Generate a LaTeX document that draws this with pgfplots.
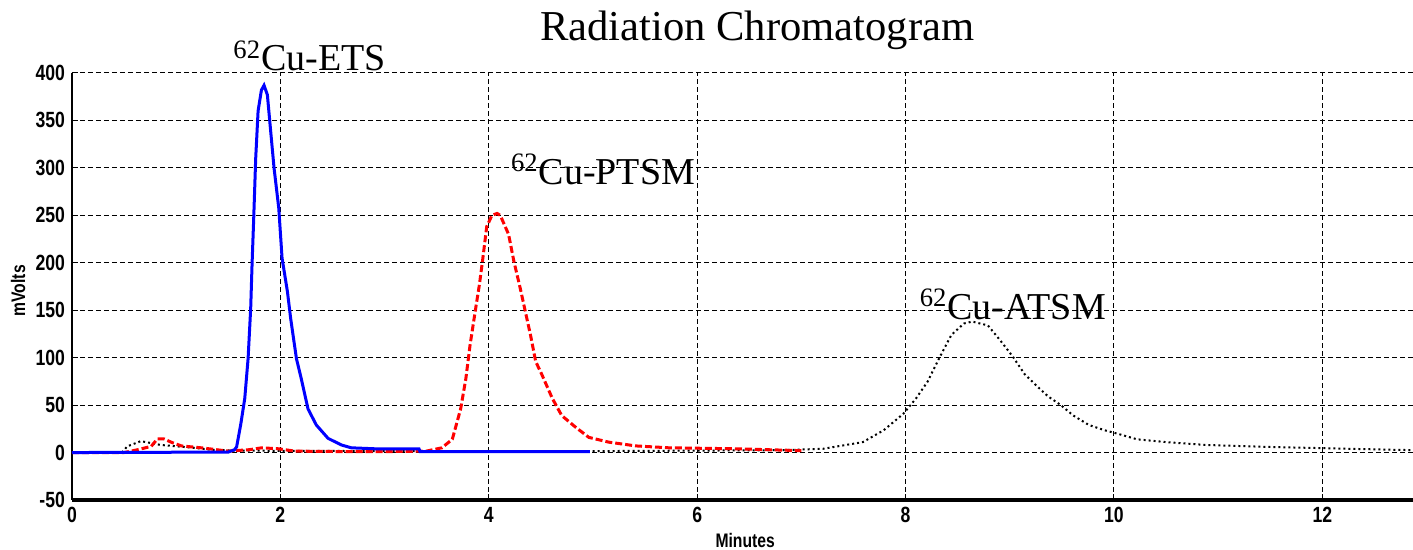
\documentclass[border=0pt]{standalone}
\usepackage{fontspec}
\setmainfont{Liberation Serif}
\newfontfamily\tickfont[FakeStretch=0.8]{Liberation Sans}
\usepackage{pgfplots}
\pgfplotsset{compat=1.18}
\pgfplotstableread{
x y
0 0
1.5 0.5
1.56 3
1.58 6
1.62 30
1.658 57
1.69 99
1.715 152
1.728 198
1.744 247
1.763 310
1.786 360
1.818 382
1.843 387
1.875 377
1.904 342
1.939 300
1.984 258
2.016 205
2.067 170
2.099 141
2.154 99
2.20 78
2.265 46
2.345 29
2.457 15
2.585 8
2.68 5
2.9 4
3.1 4
3.33 4
3.34 1
4.0 1
4.97 1
}\ets
\pgfplotstableread{
x y
0 0
0.5 0
0.63 3
0.76 6.5
0.82 14.5
0.88 14.5
0.95 11
1.05 7
1.24 5
1.5 1.5
1.7 3
1.82 5
1.98 4
2.14 1.5
2.6 1
3.0 1
3.4 1.5
3.55 5
3.65 14
3.73 46
3.78 78
3.82 113
3.87 149
3.91 177
3.94 202
3.98 238
4.03 250
4.08 252
4.11 250
4.19 230
4.24 202
4.30 174
4.35 149
4.40 124
4.45 96
4.51 82
4.61 57
4.70 39
4.83 27
4.96 16
5.15 11
5.41 7
5.73 5
6.36 4
7.0 2
}\ptsm
\pgfplotstableread{
x y
0 0
0.48 0
0.53 6.5
0.66 12
0.76 10
0.85 8
1.01 6.5
1.17 5
1.33 3
1.56 2
3 1.5
5 1.5
6.82 2.5
7.21 4
7.59 11
7.79 23.5
7.98 41
8.10 57
8.21 74.5
8.33 101
8.44 124
8.56 136
8.64 138
8.79 134
8.91 118
9.03 101
9.14 83
9.26 70
9.37 59
9.49 50
9.61 39
9.76 29
9.91 23.5
10.03 20
10.22 14
10.50 11
10.88 8
11.46 6
12.24 4
12.87 2.5
}\atsm
\begin{document}
\begin{tikzpicture}
\begin{axis}[name=ax, scale only axis, width=670.5pt, height=213.5pt,
  xmin=0, xmax=12.87, ymin=-50, ymax=400,
  axis x line*=bottom, axis y line*=left,
  xtick={0,2,...,12}, ytick={-50,0,...,400},
  grid=major,
  major grid style={black, line width=0.5pt, dash pattern=on 2.5pt off 1.5pt},
  tick style={black, line width=0.5pt}, major tick length=3pt,
  x axis line style={line width=1.6pt}, y axis line style={line width=0.8pt},
  ticklabel style={font=\tickfont\bfseries\fontsize{11}{12}\selectfont},
  /pgf/number format/assume math mode=true,
  xlabel={Minutes}, ylabel={mVolts},
  label style={font=\tickfont\bfseries\fontsize{9.8}{11}\selectfont},
  xlabel style={at={(axis description cs:0.502,0)}, anchor=center, yshift=-20pt},
  ylabel style={at={(axis description cs:0,0.49)}, anchor=center, yshift=27pt},
  clip=false]
\addplot[black, line width=1pt, dash pattern=on 1pt off 1.5pt] table {\atsm};
\addplot[red, line width=1.5pt, dash pattern=on 3.5pt off 1.5pt] table {\ptsm};
\addplot[blue, line width=1.5pt] table {\ets};
\node[font=\fontsize{21.3}{24}\selectfont] at (rel axis cs:0.511,1) [yshift=21.5pt] {Radiation Chromatogram};
\node[font=\fontsize{19}{21}\selectfont] at (axis cs:2.28,418) {\textsuperscript{62}Cu-ETS};
\node[font=\fontsize{19}{21}\selectfont] at (axis cs:5.096,298.7) {\textsuperscript{62}Cu-PTSM};
\node[font=\fontsize{19}{21}\selectfont] at (axis cs:9.03,156) {\textsuperscript{62}Cu-ATSM};
\end{axis}
\pgfresetboundingbox
\path[use as bounding box] ([xshift=-36pt,yshift=-25pt]ax.south west) rectangle ([yshift=36.5pt]ax.north east);
\end{tikzpicture}
\end{document}
